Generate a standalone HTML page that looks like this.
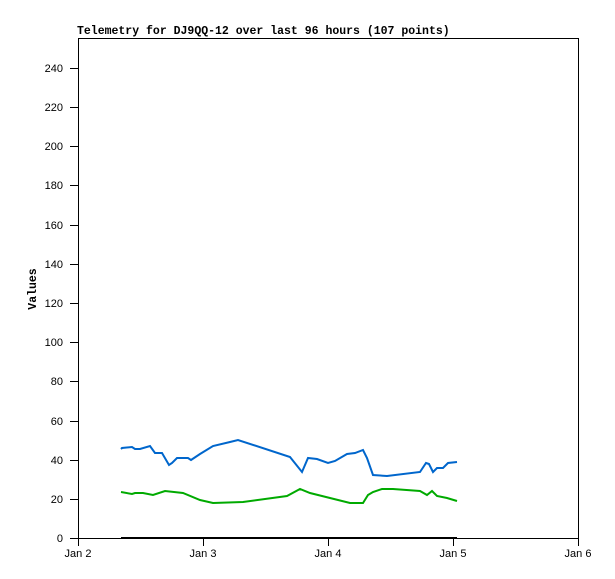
<!DOCTYPE html>
<html><head><style>body{margin:0;background:#fff}svg{display:block}text{font-family:"Liberation Sans",sans-serif;font-size:11px}.t{font-family:"Liberation Mono",monospace;font-size:11.5px;font-weight:bold}</style></head>
<body>
<svg width="615" height="579" xmlns="http://www.w3.org/2000/svg">
<rect width="615" height="579" fill="#fff"/>
<text class="t" x="77" y="34">Telemetry for DJ9QQ-12 over last 96 hours (107 points)</text>
<rect x="78.5" y="38.5" width="500" height="500" fill="none" stroke="#000"/>
<g stroke="#000">
<line x1="70" y1="538.5" x2="78" y2="538.5"/><line x1="70" y1="499.5" x2="78" y2="499.5"/><line x1="70" y1="460.5" x2="78" y2="460.5"/><line x1="70" y1="421.5" x2="78" y2="421.5"/><line x1="70" y1="381.5" x2="78" y2="381.5"/><line x1="70" y1="342.5" x2="78" y2="342.5"/><line x1="70" y1="303.5" x2="78" y2="303.5"/><line x1="70" y1="264.5" x2="78" y2="264.5"/><line x1="70" y1="225.5" x2="78" y2="225.5"/><line x1="70" y1="185.5" x2="78" y2="185.5"/><line x1="70" y1="146.5" x2="78" y2="146.5"/><line x1="70" y1="107.5" x2="78" y2="107.5"/><line x1="70" y1="68.5" x2="78" y2="68.5"/>
<line x1="78.5" y1="538" x2="78.5" y2="546"/><line x1="203.5" y1="538" x2="203.5" y2="546"/><line x1="328.5" y1="538" x2="328.5" y2="546"/><line x1="453.5" y1="538" x2="453.5" y2="546"/><line x1="578.5" y1="538" x2="578.5" y2="546"/>
</g>
<g text-anchor="end">
<text x="63" y="542">0</text><text x="63" y="503">20</text><text x="63" y="464">40</text><text x="63" y="425">60</text><text x="63" y="385">80</text><text x="63" y="346">100</text><text x="63" y="307">120</text><text x="63" y="268">140</text><text x="63" y="229">160</text><text x="63" y="189">180</text><text x="63" y="150">200</text><text x="63" y="111">220</text><text x="63" y="72">240</text>
</g>
<g text-anchor="middle">
<text x="78" y="557">Jan 2</text><text x="203" y="557">Jan 3</text><text x="328" y="557">Jan 4</text><text x="453" y="557">Jan 5</text><text x="578" y="557">Jan 6</text>
</g>
<text class="t" transform="translate(36,289) rotate(-90)" text-anchor="middle">Values</text>
<polyline fill="none" stroke="#0066cc" stroke-width="2" points="121,449 122,448 132,447 135,449 140,449 150,446 155,453 162,453 169,465 172,463 177,458 188,458 191,460 200,454 213,446 230,442 238,440 290,457 302,472 308,458 317,459 328,463 335,461 347,454 355,453 363,450 367,458 373,475 387,476 420,472 426,463 429,464 433,472 437,468 443,468 448,463 457,462"/>
<polyline fill="none" stroke="#00aa00" stroke-width="2" points="121,492 132,494 135,493 143,493 153,495 165,491 183,493 200,500 213,503 243,502 287,496 300,489 310,493 330,498 350,503 363,503 368,495 373,492 382,489 393,489 420,491 427,495 432,491 437,496 447,498 457,501"/>
<line x1="121" y1="538" x2="457" y2="538" stroke="#000" stroke-width="2"/>
</svg>
</body></html>
